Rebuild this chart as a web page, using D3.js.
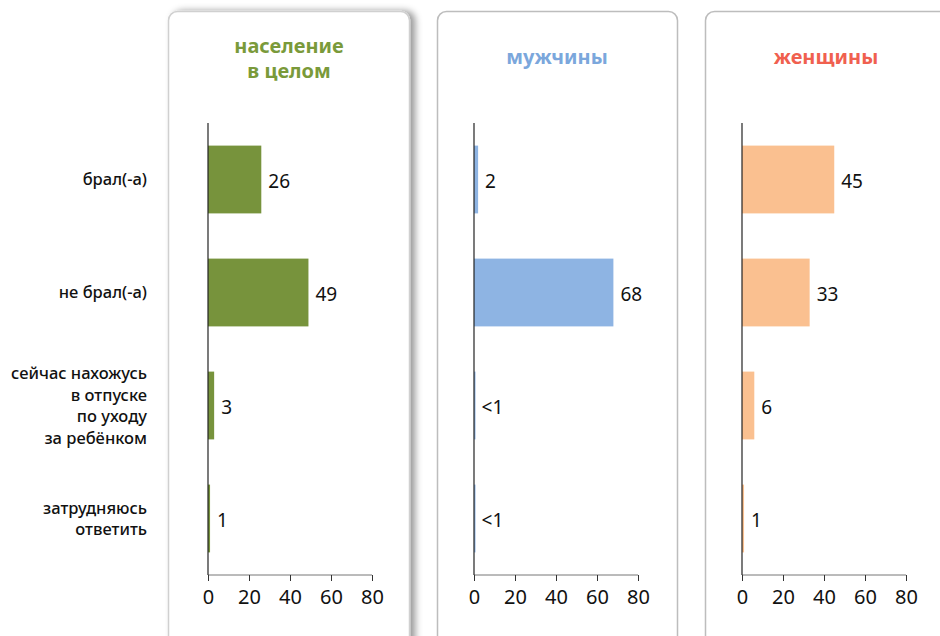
<!DOCTYPE html>
<html><head><meta charset="utf-8">
<script src="https://cdn.jsdelivr.net/npm/d3@7"></script>
<style>body{margin:0;background:#fff;} svg{display:block;font-family:"Noto Sans","Open Sans",sans-serif;}</style>
</head><body>
<svg id="c" width="940" height="636"></svg>
<script>
const categories = [["брал(-а)"],["не брал(-а)"],["сейчас нахожусь","в отпуске","по уходу","за ребёнком"],["затрудняюсь","ответить"]];
const catKeys = ["брал","не брал","в отпуске","затрудняюсь"];
const panelTitles = [["население","в целом"],["мужчины"],["женщины"]];
const valuesTotal = [26,49,3,1];
const valuesMen = [2,68,0.3,0.3];
const labelsMen = ["2","68","<1","<1"];
const valuesWomen = [45,33,6,1];
const tickValues = [0,20,40,60,80];
const colors = ["#77933c","#8eb4e3","#fac090"];
const titleColors = ["#7a9a3a","#7ba7dc","#f0604f"];

const panels = [
  {title:panelTitles[0], values:valuesTotal, labels:valuesTotal.map(String), x0:208, box:[168,409], tx:289},
  {title:panelTitles[1], values:valuesMen, labels:labelsMen, x0:474, box:[437,677], tx:557},
  {title:panelTitles[2], values:valuesWomen, labels:valuesWomen.map(String), x0:742, box:[705,960], tx:826}
];

const svg = d3.select("#c");
const defs = svg.append("defs");
const f = defs.append("filter").attr("id","sh").attr("x","-10%").attr("y","-10%").attr("width","130%").attr("height","130%");
f.append("feDropShadow").attr("dx",5).attr("dy",0).attr("stdDeviation",3.5).attr("flood-color","#000").attr("flood-opacity",0.4);

const y = d3.scaleBand().domain(catKeys).range([123,575]).paddingInner(0.4).paddingOuter(0.2);

panels.forEach((p,i)=>{
  svg.append("rect").attr("x",p.box[0]+0.5).attr("y",11.5).attr("width",p.box[1]-p.box[0]).attr("height",700)
    .attr("rx",9).attr("fill","#fff").attr("stroke", i===0?"#d0d0d0":"#bdbdbd").attr("stroke-width",1.5)
    .attr("filter", i===0?"url(#sh)":null);
});

panels.forEach((p,i)=>{
  const x = d3.scaleLinear().domain([0,80]).range([p.x0,p.x0+164]);
  const g = svg.append("g");
  const t = g.append("text").attr("text-anchor","middle")
    .attr("fill",titleColors[i]).attr("font-weight","bold").attr("font-size",20);
  const ty = p.title.length===2 ? 53 : 64;
  p.title.forEach((l,k)=>t.append("tspan").attr("x",p.tx).attr("y",ty+k*25).text(l));
  g.selectAll("rect.bar").data(p.values).enter().append("rect")
    .attr("x",x(0)).attr("y",(d,k)=>y(catKeys[k])).attr("width",d=>Math.max(x(d)-x(0),1.5)).attr("height",y.bandwidth())
    .attr("fill",colors[i]);
  g.selectAll("text.val").data(p.values).enter().append("text")
    .attr("x",d=>x(d)+7).attr("y",(d,k)=>y(catKeys[k])+y.bandwidth()/2).attr("dy","0.45em")
    .attr("font-size",19).attr("fill","#111").text((d,k)=>p.labels[k]);
  const ax = g.append("g").attr("transform","translate(0,575)")
    .call(d3.axisBottom(x).tickValues(tickValues).tickSize(6).tickPadding(9).tickFormat(d3.format("d")));
  ax.select(".domain").attr("stroke","#777").attr("d",`M${x(0)},0H${x(80)}`);
  ax.selectAll(".tick line").attr("stroke","#333");
  ax.selectAll(".tick text").attr("font-size",20).attr("fill","#111").attr("font-family","'Noto Sans',sans-serif");
  g.append("line").attr("x1",x(0)).attr("x2",x(0)).attr("y1",123).attr("y2",575).attr("stroke","#222").attr("stroke-width",1.2);
});

categories.forEach((lines,k)=>{
  const cy = y(catKeys[k])+y.bandwidth()/2;
  const lh = 21.5;
  const t = svg.append("text").attr("text-anchor","end").attr("font-size",16.5).attr("font-weight",500).attr("fill","#111");
  lines.forEach((l,j)=>t.append("tspan").attr("x",147).attr("y",cy + (j-(lines.length-1)/2)*lh).attr("dy","0.35em").text(l));
});
</script>
</body></html>
